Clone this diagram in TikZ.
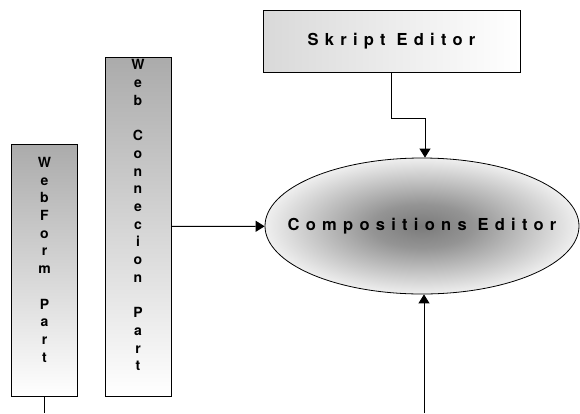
\documentclass[tikz,border=0pt]{standalone}
\usepackage{fontspec}
\setmainfont{TeX Gyre Heros}
\newfontfamily\widefont{TeX Gyre Heros}[LetterSpace=38]
\usetikzlibrary{shapes.geometric, arrows.meta}
% soft grey centre for the editor ellipse
\pgfdeclareradialshading{glow}{\pgfpoint{0bp}{0bp}}{color(0bp)=(black!52); color(8bp)=(black!42); color(28bp)=(white); color(50bp)=(white)}

\begin{document}
\begin{tikzpicture}[x=1pt, y=-1pt,
	box/.style={draw, line width=0.8pt, inner sep=0pt},
	colbox/.style={box, minimum width=66pt, top color=black!33, bottom color=white},
	letters/.style={anchor=north, align=center, inner sep=0pt, font=\bfseries\fontsize{14}{17.7}\selectfont},
	title/.style={inner sep=0pt, font=\widefont\bfseries\fontsize{16.5}{18}\selectfont},
	conn/.style={line width=0.9pt, -{Triangle[length=9pt, width=11pt]}}]
	\useasboundingbox (0,0) rectangle (580,413);

	% the two part columns
	\node[colbox, minimum height=252pt] (form) at (44.5,270) {};
	\node[letters] (formtext) at (44.5,157) {W\\e\\b\\F\\o\\r\\m\\[17.7pt]P\\a\\r\\t};
	\node[colbox, minimum height=339pt] (webcon) at (138,226.5) {};
	\node[letters] (webcontext) at (138,59.5) {W\\e\\b\\[17.7pt]C\\o\\n\\n\\e\\c\\i\\o\\n\\[17.7pt]P\\a\\r\\t};

	% editors
	\node[box, minimum width=257pt, minimum height=62pt, left color=black!15, right color=white] (skript) at (391.5,41) {};
	\node[title] (skripttext) at (skript) {Skript Editor};
	\node[box, ellipse, minimum width=314pt, minimum height=136pt, shade, shading=glow] (edit) at (422,226) {};
	\node[title] (edittext) at (edit) {Compositions Editor};

	% connections
	\coordinate (formend) at (44.5,413);
	\coordinate (feed) at (424,413);
	\draw[line width=0.9pt] (form.south) -- (formend);
	\draw[conn] (webcon) -- (edit);
	\draw[conn] (skript.south) -- ++(0,46) -| ([xshift=3pt]edit.north);
	\draw[conn] (feed) -- (feed |- edit.south);
\end{tikzpicture}
\end{document}
